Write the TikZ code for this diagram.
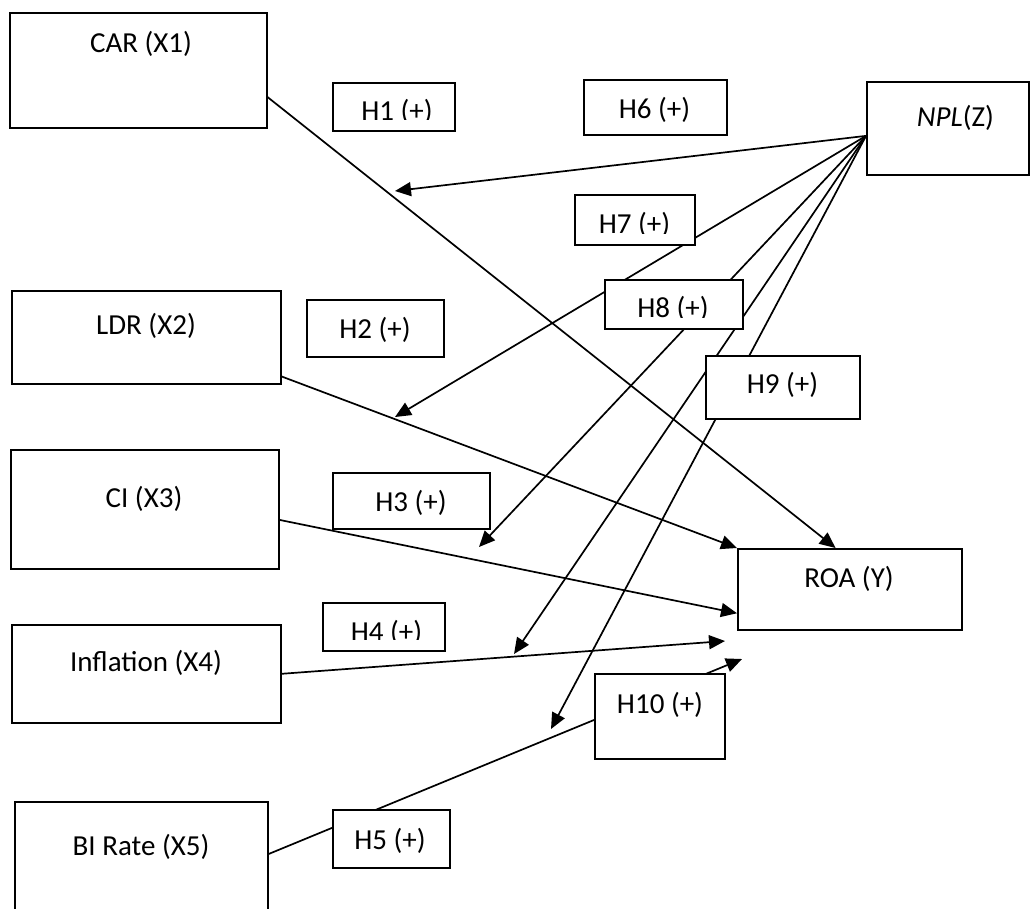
\documentclass[tikz,border=0pt]{standalone}
\usepackage{fontspec}
\setmainfont{Carlito}
\usetikzlibrary{arrows.meta,calc}
\pgfdeclarelayer{bg}
\pgfsetlayers{bg,main}
\begin{document}
\begin{tikzpicture}[x=1pt,y=-1pt,
  box/.style={draw, fill=white, line width=1.6pt, rectangle, inner sep=0pt, anchor=north west},
  lbl/.style={inner sep=0pt, anchor=base, font=\fontsize{29}{35}\selectfont},
  arr/.style={line width=1.7pt, -{Triangle[length=16pt,width=14pt]}}]
\path[use as bounding box, clip] (0,0) rectangle (1030,908);

% boxes
\node[box, minimum width=257pt, minimum height=115pt] (CAR) at (9,12) {};
\node[box, minimum width=122pt, minimum height=48pt] (H1) at (332,82) {};
\node[box, minimum width=143pt, minimum height=55pt] (H6) at (583,79) {};
\node[box, minimum width=162pt, minimum height=93pt] (NPL) at (866,81) {};
\node[box, minimum width=120pt, minimum height=50pt] (H7) at (574,194) {};
\node[box, minimum width=138pt, minimum height=49pt] (H8) at (604,279) {};
\node[box, minimum width=154pt, minimum height=63pt] (H9) at (705,355) {};
\node[box, minimum width=269pt, minimum height=93pt] (LDR) at (11,290) {};
\node[box, minimum width=137pt, minimum height=57pt] (H2) at (306,299) {};
\node[box, minimum width=268pt, minimum height=119pt] (CI) at (10,449) {};
\node[box, minimum width=157pt, minimum height=56pt] (H3) at (332,472) {};
\node[box, minimum width=224pt, minimum height=81pt] (ROA) at (737,548) {};
\node[box, minimum width=122pt, minimum height=48pt] (H4) at (322,602) {};
\node[box, minimum width=269pt, minimum height=98pt] (INF) at (11,624) {};
\node[box, minimum width=253pt, minimum height=120pt] (BI) at (14,801) {};
\node[box, minimum width=117pt, minimum height=58pt] (H5) at (332,809) {};
\node[box, minimum width=130pt, minimum height=85pt] (H10) at (594,673) {};

% labels
\node[lbl] (tCAR) at (141,52) {CAR (X1)};
\node[lbl] (tH6) at (654.5,118.7) {H6 (+)};
\node[lbl] (tNPL) at (955.5,126.4) {\textit{NPL}(Z)};
\node[lbl] (tH9) at (782.5,393.7) {H9 (+)};
\node[lbl] (tLDR) at (146,334.7) {LDR (X2)};
\node[lbl] (tH2) at (375,338) {H2 (+)};
\node[lbl] (tCI) at (144,507) {CI (X3)};
\node[lbl] (tH3) at (411,511.4) {H3 (+)};
\node[lbl] (tROA) at (849,587) {ROA (Y)};
\node[lbl] (tINF) at (146,671.4) {Inflation (X4)};
\node[lbl] (tBI) at (141,855.4) {BI Rate (X5)};
\node[lbl] (tH5) at (390,849.4) {H5 (+)};
\node[lbl] (tH10) at (660,713.7) {H10 (+)};
\begin{scope}
  \clip (H1.north west) rectangle ($(H1.south east)+(0,-12)$);
  \node[lbl] (tH1) at (397,120.4) {H1 (+)};
\end{scope}
\begin{scope}
  \clip (H7.north west) rectangle ($(H7.south east)+(0,-12)$);
  \node[lbl] (tH7) at (634.5,233.7) {H7 (+)};
\end{scope}
\begin{scope}
  \clip (H8.north west) rectangle ($(H8.south east)+(0,-12)$);
  \node[lbl] (tH8) at (673,317.7) {H8 (+)};
\end{scope}
\begin{scope}
  \clip (H4.north west) rectangle ($(H4.south east)+(0,-12)$);
  \node[lbl] (tH4) at (386.5,641.7) {H4 (+)};
\end{scope}

% connection points
\coordinate (carout) at ($(CAR.north east)!0.73!(CAR.south east)$);
\coordinate (roaA) at ($(ROA.north west)!0.437!(ROA.north east)$);
\coordinate (ldrout) at ($(LDR.north east)!0.914!(LDR.south east)$);
\coordinate (ciout) at ($(CI.north east)!0.588!(CI.south east)$);
\coordinate (roaC) at ($(ROA.north west)!0.79!(ROA.south west)$);
\coordinate (biout) at ($(BI.north east)+(0,53)$);
\coordinate (infend) at (725,641);
\coordinate (biend) at (742,659);
\coordinate (npl) at ($(NPL.north west)!0.58!(NPL.south west)$);
\coordinate (za) at (395,191);
\coordinate (zb) at (395,417);
\coordinate (zc) at (479,547);
\coordinate (zd) at (514,654);
\coordinate (ze) at (551,729);

\begin{pgfonlayer}{bg}
  \draw[arr] (carout) -- (roaA);
  \draw[arr] (ldrout) -- (ROA.north west);
  \draw[arr] (ciout) -- (roaC);
  \draw[arr] (INF.east) -- (infend);
  \draw[arr] (biout) -- (biend);
  \draw[arr] (npl) -- (za);
  \draw[arr] (npl) -- (zb);
  \draw[arr] (npl) -- (zc);
  \draw[arr] (npl) -- (zd);
  \draw[arr] (npl) -- (ze);
\end{pgfonlayer}
\end{tikzpicture}
\end{document}
